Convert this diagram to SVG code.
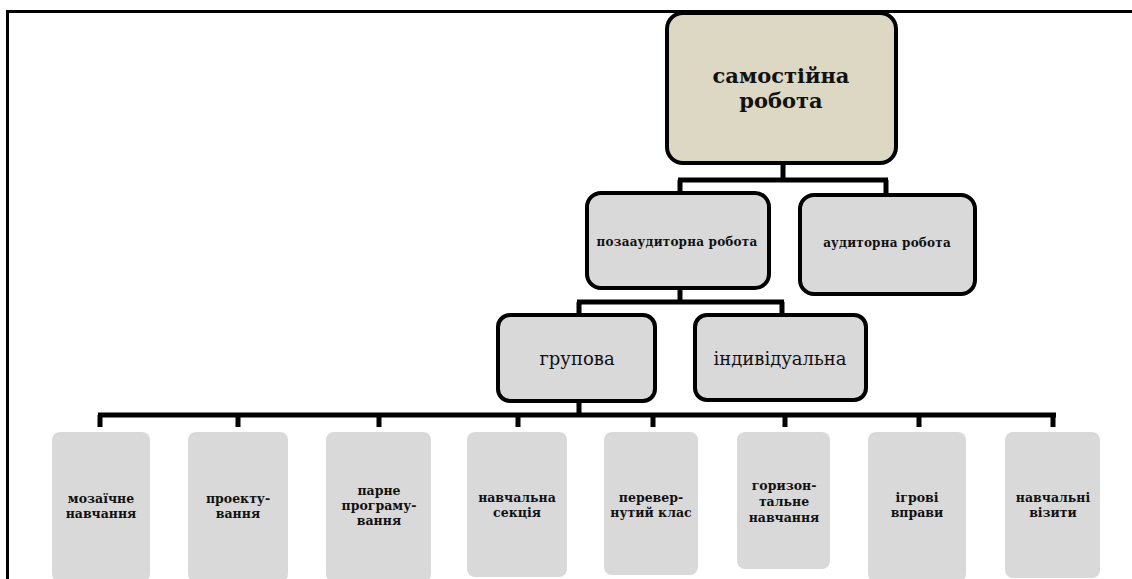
<svg xmlns="http://www.w3.org/2000/svg" width="1132" height="579" viewBox="0 0 1132 579">
<style>
.frame{fill:none;stroke:#000;stroke-width:3}
.top{fill:#dcd8c3;stroke:#000;stroke-width:4}
.mid{fill:#d9d9d9;stroke:#000;stroke-width:4}
.leaf{fill:#d9d9d9;stroke:none}
.conn{fill:none;stroke:#000;stroke-width:5}
.t1{font-family:"DejaVu Serif","Liberation Serif",serif;font-weight:bold;font-size:21px;text-anchor:middle;fill:#111}
.t2{font-family:"DejaVu Serif","Liberation Serif",serif;font-weight:bold;font-size:12px;letter-spacing:0.2px;text-anchor:middle;fill:#111}
.t3{font-family:"DejaVu Serif","Liberation Serif",serif;font-size:18px;text-anchor:middle;fill:#111}
.t4{font-family:"DejaVu Serif","Liberation Serif",serif;font-weight:bold;font-size:12.5px;text-anchor:middle;fill:#111}
</style>
<rect width="1132" height="579" fill="#fff"/>
<path class="frame" d="M7.5,579 V11.5 H1132"/>
<g id="connectors">
<path class="conn" d="M783,163 V180 M678,180 H888 M680,180 V193 M886,180 V195"/>
<path class="conn" d="M680,288 V302 M577,302 H784 M579,302 V315 M782,302 V315"/>
<path class="conn" d="M579,401 V415 M98,415 H1056 M100,415 V427 M238,415 V427 M379,415 V427 M518,415 V427 M653,415 V427 M785,415 V427 M919,415 V427 M1053,415 V427"/>
</g>
<g id="n-samostiina">
<rect class="top" x="667" y="13" width="229" height="150" rx="16"/>
<text class="t1" x="781" y="83">самостійна</text>
<text class="t1" x="781" y="108">робота</text>
</g>
<g id="n-pozaaud">
<rect class="mid" x="587" y="193" width="182" height="95" rx="14"/>
<text class="t2" x="677" y="246">позааудиторна робота</text>
</g>
<g id="n-aud">
<rect class="mid" x="800" y="195" width="175" height="99" rx="14"/>
<text class="t2" x="887" y="247">аудиторна робота</text>
</g>
<g id="n-grupova">
<rect class="mid" x="498" y="315" width="157" height="86" rx="12"/>
<text class="t3" x="577" y="365">групова</text>
</g>
<g id="n-indyv">
<rect class="mid" x="695" y="315" width="171" height="85" rx="12"/>
<text class="t3" x="780" y="365">індивідуальна</text>
</g>
<g id="n-mozaichne">
<rect class="leaf" x="52" y="432" width="98" height="150" rx="8"/>
<text class="t4" x="101" y="503">мозаїчне</text>
<text class="t4" x="101" y="518">навчання</text>
</g>
<g id="n-proektuvannia">
<rect class="leaf" x="188" y="432" width="100" height="150" rx="8"/>
<text class="t4" x="238" y="503">проекту-</text>
<text class="t4" x="238" y="518">вання</text>
</g>
<g id="n-parne">
<rect class="leaf" x="326" y="432" width="105" height="150" rx="8"/>
<text class="t4" x="379" y="495">парне</text>
<text class="t4" x="379" y="510">програму-</text>
<text class="t4" x="379" y="525">вання</text>
</g>
<g id="n-sektsiia">
<rect class="leaf" x="467" y="432" width="100" height="145" rx="8"/>
<text class="t4" x="517" y="502">навчальна</text>
<text class="t4" x="517" y="517">секція</text>
</g>
<g id="n-perevernutyi">
<rect class="leaf" x="604" y="432" width="94" height="143" rx="8"/>
<text class="t4" x="651" y="502">перевер-</text>
<text class="t4" x="651" y="517">нутий клас</text>
</g>
<g id="n-horyzontalne">
<rect class="leaf" x="737" y="432" width="93" height="137" rx="8"/>
<text class="t4" x="784" y="490">горизон-</text>
<text class="t4" x="784" y="506">тальне</text>
<text class="t4" x="784" y="522">навчання</text>
</g>
<g id="n-ihrovi">
<rect class="leaf" x="868" y="432" width="98" height="150" rx="8"/>
<text class="t4" x="917" y="502">ігрові</text>
<text class="t4" x="917" y="517">вправи</text>
</g>
<g id="n-vizyty">
<rect class="leaf" x="1005" y="432" width="95" height="146" rx="8"/>
<text class="t4" x="1053" y="502">навчальні</text>
<text class="t4" x="1053" y="517">візити</text>
</g>
</svg>
